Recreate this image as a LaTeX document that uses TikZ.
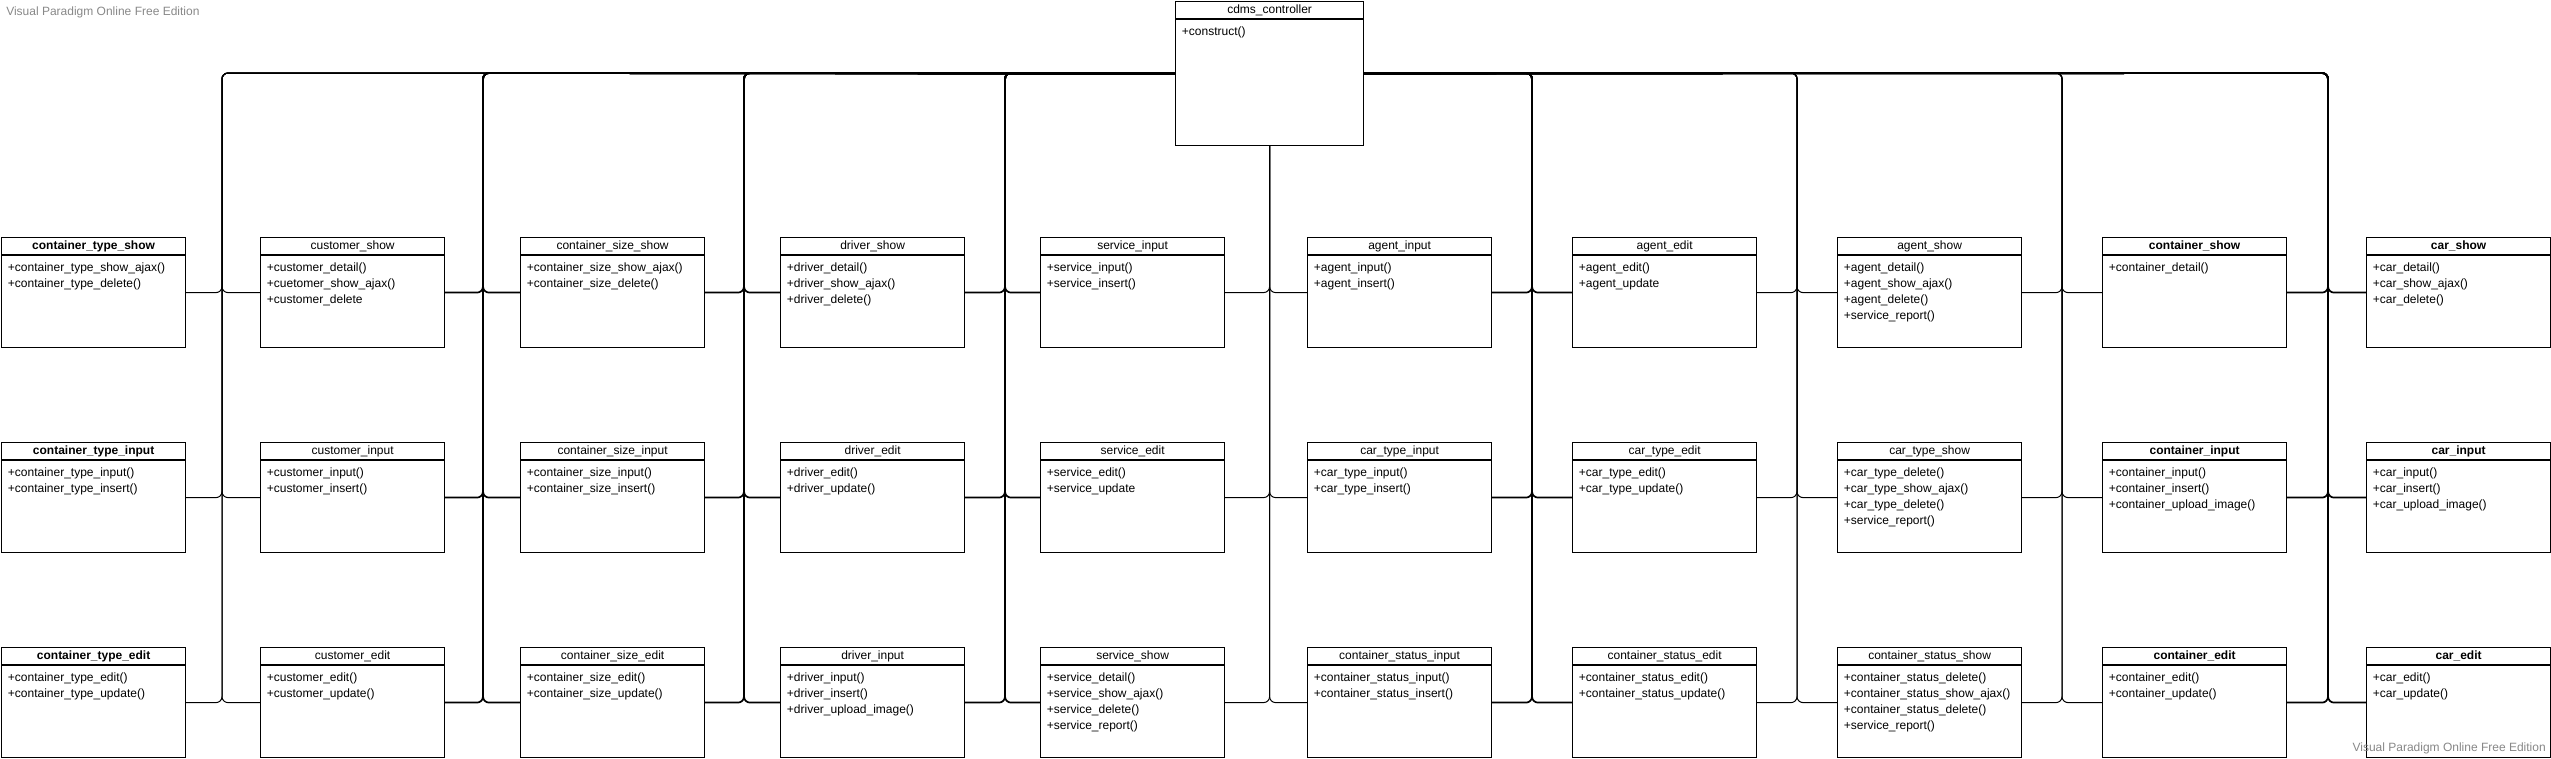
\documentclass[tikz,border=0pt]{standalone}
\usepackage{fontspec}
\setmainfont{Liberation Sans}
\usepackage{tikz}

\definecolor{wmgray}{RGB}{136,136,136}

% one UML class: [box options]{name}{top left}{title}{operations}
% (shifts are flipped by yscale=-1, so positive yshift goes down)
\newcommand{\umlclass}[5][]{%
  \node[classbox,#1] (#2) at (#3) {};
  \node[classtitle] (#2-title) at ([yshift=6.75pt]#2.north) {#4};
  \draw[classsep] ([yshift=13.5pt]#2.north west) -- ([yshift=13.5pt]#2.north east);
  \node[classops] (#2-ops) at ([xshift=5pt,yshift=19.5pt]#2.north west) {#5};
}

\begin{document}
\begin{tikzpicture}[x=0.75pt,y=0.75pt,yscale=-1,xscale=1,
  classbox/.style={draw,line width=0.9pt,fill=white,anchor=north west,inner sep=0pt,minimum width=138pt,minimum height=82.5pt},
  classtitle/.style={inner sep=0pt,font=\fontsize{9}{11}\selectfont},
  classsep/.style={line width=0.9pt},
  classops/.style={anchor=north west,align=left,inner sep=0pt,font=\fontsize{9}{12}\selectfont},
  conn/.style={line width=0.75pt,rounded corners=4.5pt},
  connthick/.style={conn,line width=1.3pt},
  wmark/.style={inner sep=0pt,text=wmgray,font=\fontsize{9}{11}\selectfont}]
\useasboundingbox (0,0) rectangle (2551,758);

% Controller
\umlclass[minimum width=141pt,minimum height=108pt]{ctl}{1175,1}{cdms\_controller}{+construct()}

% Column 1
\umlclass{ctshow}{1,237}{\textbf{container\_type\_show}}{+container\_type\_show\_ajax()\\+container\_type\_delete()}
\umlclass{ctinput}{1,442}{\textbf{container\_type\_input}}{+container\_type\_input()\\+container\_type\_insert()}
\umlclass{ctedit}{1,647}{\textbf{container\_type\_edit}}{+container\_type\_edit()\\+container\_type\_update()}

% Column 2
\umlclass{cushow}{260,237}{customer\_show}{+customer\_detail()\\+cuetomer\_show\_ajax()\\+customer\_delete}
\umlclass{cuinput}{260,442}{customer\_input}{+customer\_input()\\+customer\_insert()}
\umlclass{cuedit}{260,647}{customer\_edit}{+customer\_edit()\\+customer\_update()}

% Column 3
\umlclass{csshow}{520,237}{container\_size\_show}{+container\_size\_show\_ajax()\\+container\_size\_delete()}
\umlclass{csinput}{520,442}{container\_size\_input}{+container\_size\_input()\\+container\_size\_insert()}
\umlclass{csedit}{520,647}{container\_size\_edit}{+container\_size\_edit()\\+container\_size\_update()}

% Column 4
\umlclass{drshow}{780,237}{driver\_show}{+driver\_detail()\\+driver\_show\_ajax()\\+driver\_delete()}
\umlclass{dredit}{780,442}{driver\_edit}{+driver\_edit()\\+driver\_update()}
\umlclass{drinput}{780,647}{driver\_input}{+driver\_input()\\+driver\_insert()\\+driver\_upload\_image()}

% Column 5
\umlclass{svinput}{1040,237}{service\_input}{+service\_input()\\+service\_insert()}
\umlclass{svedit}{1040,442}{service\_edit}{+service\_edit()\\+service\_update}
\umlclass{svshow}{1040,647}{service\_show}{+service\_detail()\\+service\_show\_ajax()\\+service\_delete()\\+service\_report()}

% Column 6
\umlclass{aginput}{1307,237}{agent\_input}{+agent\_input()\\+agent\_insert()}
\umlclass{ctyinput}{1307,442}{car\_type\_input}{+car\_type\_input()\\+car\_type\_insert()}
\umlclass{cstinput}{1307,647}{container\_status\_input}{+container\_status\_input()\\+container\_status\_insert()}

% Column 7
\umlclass{agedit}{1572,237}{agent\_edit}{+agent\_edit()\\+agent\_update}
\umlclass{ctyedit}{1572,442}{car\_type\_edit}{+car\_type\_edit()\\+car\_type\_update()}
\umlclass{cstedit}{1572,647}{container\_status\_edit}{+container\_status\_edit()\\+container\_status\_update()}

% Column 8
\umlclass{agshow}{1837,237}{agent\_show}{+agent\_detail()\\+agent\_show\_ajax()\\+agent\_delete()\\+service\_report()}
\umlclass{ctyshow}{1837,442}{car\_type\_show}{+car\_type\_delete()\\+car\_type\_show\_ajax()\\+car\_type\_delete()\\+service\_report()}
\umlclass{cstshow}{1837,647}{container\_status\_show}{+container\_status\_delete()\\+container\_status\_show\_ajax()\\+container\_status\_delete()\\+service\_report()}

% Column 9
\umlclass{coshow}{2102,237}{\textbf{container\_show}}{+container\_detail()}
\umlclass{coinput}{2102,442}{\textbf{container\_input}}{+container\_input()\\+container\_insert()\\+container\_upload\_image()}
\umlclass{coedit}{2102,647}{\textbf{container\_edit}}{+container\_edit()\\+container\_update()}

% Column 10
\umlclass{carshow}{2366,237}{\textbf{car\_show}}{+car\_detail()\\+car\_show\_ajax()\\+car\_delete()}
\umlclass{carinput}{2366,442}{\textbf{car\_input}}{+car\_input()\\+car\_insert()\\+car\_upload\_image()}
\umlclass{caredit}{2366,647}{\textbf{car\_edit}}{+car\_edit()\\+car\_update()}

% Bus corners on the top line
\coordinate (b1) at (222,73);
\coordinate (b2) at (483,73);
\coordinate (b3) at (744,73);
\coordinate (b4) at (1005,73);
\coordinate (b6) at (1532,73);
\coordinate (b7) at (1797,73);
\coordinate (b8) at (2062,73);
\coordinate (b9) at (2328,73);

% Bus 1
\draw[conn] (ctshow.east) -| (b1) -- (ctl.west);
\draw[conn] (ctinput.east) -| (b1) -- (ctl.west);
\draw[conn] (ctedit.east) -| (b1) -- (ctl.west);
\draw[conn] (cushow.west) -| (b1) -- (ctl.west);
\draw[conn] (cuinput.west) -| (b1) -- (ctl.west);
\draw[conn] (cuedit.west) -| (b1) -- (ctl.west);

% Bus 2
\draw[connthick] (cushow.east) -| (b2) -- (ctl.west);
\draw[connthick] (cuinput.east) -| (b2) -- (ctl.west);
\draw[connthick] (cuedit.east) -| (b2) -- (ctl.west);
\draw[connthick] (csshow.west) -| (b2) -- (ctl.west);
\draw[connthick] (csinput.west) -| (b2) -- (ctl.west);
\draw[connthick] (csedit.west) -| (b2) -- (ctl.west);

% Bus 3
\draw[connthick] (csshow.east) -| (b3) -- (ctl.west);
\draw[connthick] (csinput.east) -| (b3) -- (ctl.west);
\draw[connthick] (csedit.east) -| (b3) -- (ctl.west);
\draw[connthick] (drshow.west) -| (b3) -- (ctl.west);
\draw[connthick] (dredit.west) -| (b3) -- (ctl.west);
\draw[connthick] (drinput.west) -| (b3) -- (ctl.west);

% Bus 4
\draw[connthick] (drshow.east) -| (b4) -- (ctl.west);
\draw[connthick] (dredit.east) -| (b4) -- (ctl.west);
\draw[connthick] (drinput.east) -| (b4) -- (ctl.west);
\draw[connthick] (svinput.west) -| (b4) -- (ctl.west);
\draw[connthick] (svedit.west) -| (b4) -- (ctl.west);
\draw[connthick] (svshow.west) -| (b4) -- (ctl.west);

% Bus under the controller
\draw[conn] (svinput.east) -| (ctl.south);
\draw[conn] (svedit.east) -| (ctl.south);
\draw[conn] (svshow.east) -| (ctl.south);
\draw[conn] (aginput.west) -| (ctl.south);
\draw[conn] (ctyinput.west) -| (ctl.south);
\draw[conn] (cstinput.west) -| (ctl.south);

% Bus 6
\draw[connthick] (aginput.east) -| (b6) -- (ctl.east);
\draw[connthick] (ctyinput.east) -| (b6) -- (ctl.east);
\draw[connthick] (cstinput.east) -| (b6) -- (ctl.east);
\draw[connthick] (agedit.west) -| (b6) -- (ctl.east);
\draw[connthick] (ctyedit.west) -| (b6) -- (ctl.east);
\draw[connthick] (cstedit.west) -| (b6) -- (ctl.east);

% Bus 7
\draw[conn] (agedit.east) -| (b7) -- (ctl.east);
\draw[conn] (ctyedit.east) -| (b7) -- (ctl.east);
\draw[conn] (cstedit.east) -| (b7) -- (ctl.east);
\draw[conn] (agshow.west) -| (b7) -- (ctl.east);
\draw[conn] (ctyshow.west) -| (b7) -- (ctl.east);
\draw[conn] (cstshow.west) -| (b7) -- (ctl.east);

% Bus 8
\draw[conn] (agshow.east) -| (b8) -- (ctl.east);
\draw[conn] (ctyshow.east) -| (b8) -- (ctl.east);
\draw[conn] (cstshow.east) -| (b8) -- (ctl.east);
\draw[conn] (coshow.west) -| (b8) -- (ctl.east);
\draw[conn] (coinput.west) -| (b8) -- (ctl.east);
\draw[conn] (coedit.west) -| (b8) -- (ctl.east);

% Bus 9
\draw[connthick] (coshow.east) -| (b9) -- (ctl.east);
\draw[connthick] (coinput.east) -| (b9) -- (ctl.east);
\draw[connthick] (coedit.east) -| (b9) -- (ctl.east);
\draw[connthick] (carshow.west) -| (b9) -- (ctl.east);
\draw[connthick] (carinput.west) -| (b9) -- (ctl.east);
\draw[connthick] (caredit.west) -| (b9) -- (ctl.east);

% Watermarks
\node[wmark,anchor=west] (wmtop) at (6,12) {Visual Paradigm Online Free Edition};
\node[wmark,anchor=east] (wmbottom) at (2546,748) {Visual Paradigm Online Free Edition};

\end{tikzpicture}
\end{document}
